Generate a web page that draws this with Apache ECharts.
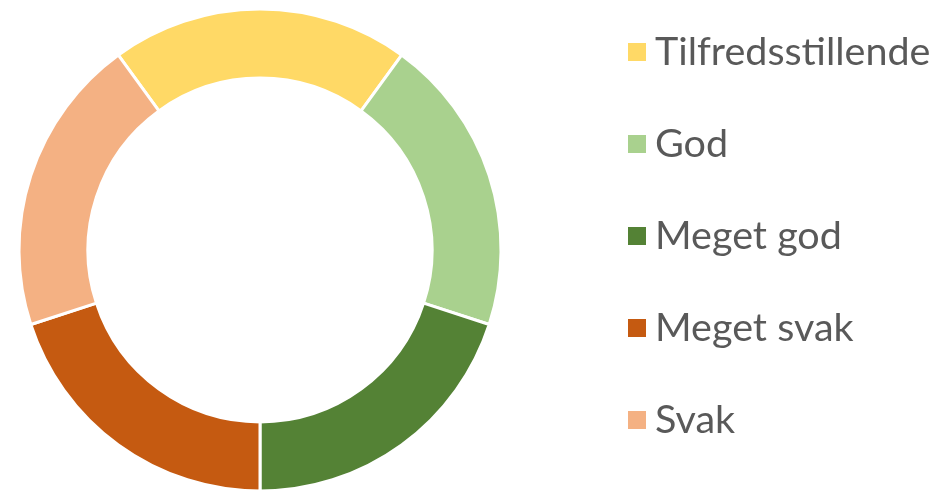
<!DOCTYPE html>
<html>
<head>
<meta charset="utf-8">
<script src="https://cdn.jsdelivr.net/npm/echarts@6/dist/echarts.min.js"></script>
<style>
  html, body { margin: 0; padding: 0; background: #fff; }
  #chart { width: 933px; height: 490px; }
</style>
</head>
<body>
<div id="chart"></div>
<script>
// kategorier og andeler (like store deler)
var categories = ["Tilfredsstillende", "God", "Meget god", "Meget svak", "Svak"];
var values = [20, 20, 20, 20, 20];
var colors = ["#FFD966", "#A9D18E", "#548235", "#C55A11", "#F4B183"];

var myChart = echarts.init(document.getElementById("chart"));
var option = {
  animation: false,
  legend: {
    orient: "vertical",
    left: 621,
    top: 27,
    icon: "rect",
    itemWidth: 20,
    itemHeight: 20,
    itemGap: 52,
    data: categories,
    textStyle: {
      fontFamily: "Lato",
      fontSize: 39.5,
      lineHeight: 40,
      color: "#595959",
      padding: [0, 0, 0, 3]
    }
  },
  series: [
    {
      type: "pie",
      center: [260, 250],
      radius: [172, 241],
      startAngle: 126,
      clockwise: true,
      label: { show: false },
      labelLine: { show: false },
      emphasis: { disabled: true },
      itemStyle: {
        borderColor: "#ffffff",
        borderWidth: 3
      },
      data: categories.map(function (name, i) {
        return { name: name, value: values[i], itemStyle: { color: colors[i] } };
      })
    }
  ]
};
myChart.setOption(option);
</script>
</body>
</html>
